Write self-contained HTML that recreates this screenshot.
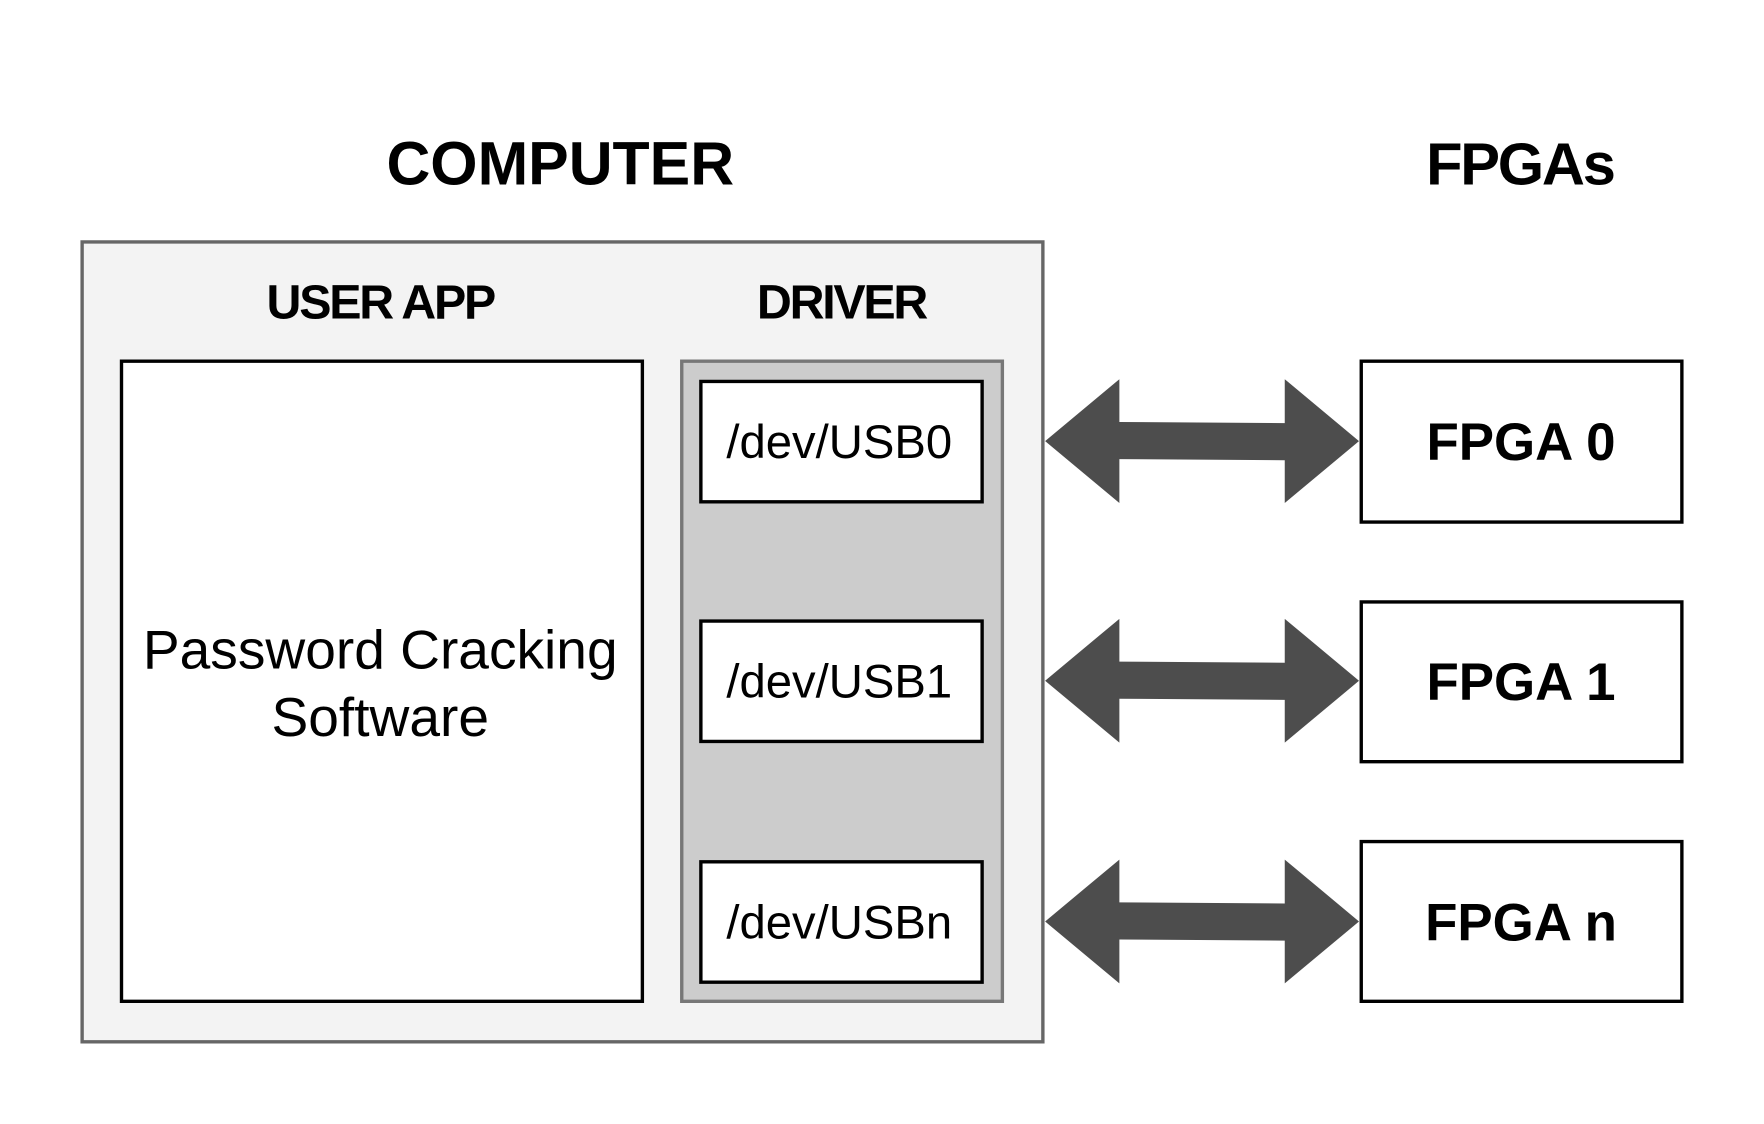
<!DOCTYPE html>
<html><head><style>html,body{margin:0;padding:0;background:#fff}svg{display:block}</style></head>
<body>
<svg width="1764" height="1124" viewBox="0 0 1568 999" xmlns="http://www.w3.org/2000/svg" font-family="Liberation Sans, sans-serif">
<rect width="1568" height="999" fill="#fff"/>
<text x="498" y="164" text-anchor="middle" font-size="54" font-weight="bold">COMPUTER</text>
<text x="1351" y="164" text-anchor="middle" font-size="53" font-weight="bold" letter-spacing="-2">FPGAs</text>
<rect x="73" y="215" width="854" height="711" fill="#f3f3f3" stroke="#666" stroke-width="3"/>
<text x="338" y="283" text-anchor="middle" font-size="43" font-weight="bold" letter-spacing="-2">USER APP</text>
<text x="748" y="283" text-anchor="middle" font-size="43" font-weight="bold" letter-spacing="-2">DRIVER</text>
<rect x="108" y="321" width="463" height="569" fill="#fff" stroke="#000" stroke-width="3"/>
<text x="338" y="594" text-anchor="middle" font-size="49">Password Cracking</text>
<text x="338" y="654" text-anchor="middle" font-size="49">Software</text>
<rect x="606" y="321" width="285" height="569" fill="#ccc" stroke="#777" stroke-width="3"/>
<g fill="#fff" stroke="#000" stroke-width="3">
<rect x="623" y="339" width="250" height="107"/>
<rect x="623" y="552" width="250" height="107"/>
<rect x="623" y="766" width="250" height="107"/>
<rect x="1210" y="321" width="285" height="143"/>
<rect x="1210" y="535" width="285" height="142"/>
<rect x="1210" y="748" width="285" height="142"/>
</g>
<g font-size="42" text-anchor="middle">
<text x="746" y="407">/dev/USB0</text>
<text x="746" y="620">/dev/USB1</text>
<text x="746" y="834">/dev/USBn</text>
</g>
<g font-size="47" font-weight="bold" text-anchor="middle">
<text x="1352" y="409">FPGA 0</text>
<text x="1352" y="622">FPGA 1</text>
<text x="1352" y="836">FPGA n</text>
</g>
<g fill="#4d4d4d">
<polygon points="929,392 995,337 995,375 1142,376 1142,337 1208,392 1142,447 1142,409 995,408 995,447"/>
<polygon points="929,605 995,550 995,588 1142,589 1142,550 1208,605 1142,660 1142,622 995,621 995,660"/>
<polygon points="929,819 995,764 995,802 1142,803 1142,764 1208,819 1142,874 1142,836 995,835 995,874"/>
</g>
</svg>
</body></html>
